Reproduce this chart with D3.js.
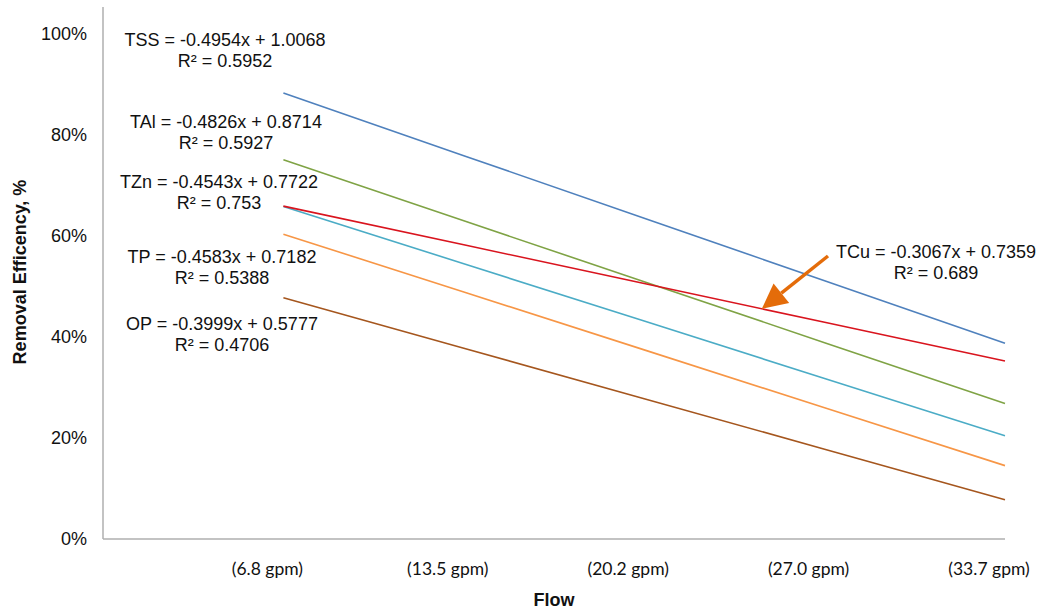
<!DOCTYPE html>
<html>
<head>
<meta charset="utf-8">
<script src="https://cdn.jsdelivr.net/npm/d3@7"></script>
<style>
  body { margin: 0; background: #fff; }
  svg { display: block; }
</style>
</head>
<body>
<svg id="chart" width="1041" height="614"></svg>
<script>
// ---- data ----
const flowX = [0.25, 0.5, 0.75, 1.0, 1.25];           // normalized flow (x / 27 gpm)
const flowLabels = ["(6.8 gpm)", "(13.5 gpm)", "(20.2 gpm)", "(27.0 gpm)", "(33.7 gpm)"];
const yTicks = [0, 0.2, 0.4, 0.6, 0.8, 1.0];

const seriesNames = ["TSS", "TAl", "TZn", "TP", "OP", "TCu"];
const tssValues = [0.8830, 0.7591, 0.6353, 0.5114, 0.3876];
const talValues = [0.7508, 0.6301, 0.5095, 0.3888, 0.2682];
const tznValues = [0.6586, 0.5451, 0.4315, 0.3179, 0.2043];
const tpValues  = [0.6036, 0.4891, 0.3745, 0.2599, 0.1453];
const opValues  = [0.4777, 0.3778, 0.2778, 0.1778, 0.0778];
const tcuValues = [0.6592, 0.5826, 0.5059, 0.4292, 0.3525];
const seriesEquations = [
  "TSS = -0.4954x + 1.0068",
  "TAl = -0.4826x + 0.8714",
  "TZn = -0.4543x + 0.7722",
  "TP = -0.4583x + 0.7182",
  "OP = -0.3999x + 0.5777",
  "TCu = -0.3067x + 0.7359"
];
const seriesR2 = ["R\u00B2 = 0.5952", "R\u00B2 = 0.5927", "R\u00B2 = 0.753", "R\u00B2 = 0.5388", "R\u00B2 = 0.4706", "R\u00B2 = 0.689"];

(function () {
// ---- layout ----
const colors = ["#4F81BD", "#7FA345", "#4BACC6", "#F79646", "#A5561E", "#D9141E"];
const seriesValues = [tssValues, talValues, tznValues, tpValues, opValues, tcuValues];

const svg = d3.select("#chart");
const mLeft = 103, mRight = 1005, mTop = 7, mBottom = 539;
const font = "Liberation Sans, Arial, sans-serif";

const x = d3.scaleLinear().domain([0, 1.25]).range([mLeft, mRight]);
const y = d3.scaleLinear().domain([0, 1.0535]).range([mBottom, mTop]);

// axes lines
svg.append("line").attr("x1", mLeft).attr("x2", mLeft).attr("y1", mTop).attr("y2", mBottom)
  .attr("stroke", "#AFAFAF").attr("stroke-width", 1.5);
svg.append("line").attr("x1", mLeft).attr("x2", mRight).attr("y1", mBottom).attr("y2", mBottom)
  .attr("stroke", "#AFAFAF").attr("stroke-width", 1.5);

// y tick labels
svg.append("g").selectAll("text").data(yTicks).join("text")
  .attr("x", 87).attr("y", d => y(d))
  .attr("text-anchor", "end").attr("dominant-baseline", "central")
  .attr("font-family", font).attr("font-size", 18)
  .attr("fill", "#111")
  .text(d => d3.format(".0%")(d));

// x category labels
svg.append("g").selectAll("text").data(flowX).join("text")
  .attr("x", (d) => x(d) - 16).attr("y", 568)
  .attr("text-anchor", "middle").attr("dominant-baseline", "central")
  .attr("font-family", "Lato, Open Sans, sans-serif").attr("font-size", 17.5)
  .attr("fill", "#111")
  .text((d, i) => flowLabels[i]);

// axis titles
svg.append("text").attr("x", 554).attr("y", 600)
  .attr("text-anchor", "middle").attr("dominant-baseline", "central")
  .attr("font-family", font).attr("font-size", 18)
  .attr("font-weight", "bold").attr("fill", "#111").text("Flow");
svg.append("text").attr("transform", "translate(20,272) rotate(-90)")
  .attr("text-anchor", "middle").attr("dominant-baseline", "central")
  .attr("font-family", font).attr("font-size", 18)
  .attr("font-weight", "bold").attr("fill", "#111").text("Removal Efficency, %");

// lines
const line = d3.line().x((d, i) => x(flowX[i])).y(d => y(d));
svg.append("g").selectAll("path").data(seriesValues).join("path")
  .attr("d", d => line(d))
  .attr("fill", "none")
  .attr("stroke", (d, i) => colors[i])
  .attr("stroke-width", 1.6);

// equation labels
const labelPos = [[225, 40], [226, 122], [219, 182], [222, 257], [222, 324], [936, 252]];
const lg = svg.append("g").attr("font-family", font)
  .attr("font-size", 18).attr("fill", "#111");
seriesNames.forEach((n, i) => {
  const t = lg.append("text").attr("text-anchor", "middle");
  t.append("tspan").attr("x", labelPos[i][0]).attr("y", labelPos[i][1])
    .attr("dominant-baseline", "central").text(seriesEquations[i]);
  t.append("tspan").attr("x", labelPos[i][0]).attr("y", labelPos[i][1] + 20.5)
    .attr("dominant-baseline", "central").text(seriesR2[i]);
});

// arrow pointing to TCu line
const arrowColor = "#E46C0A";
const tp = 0.913;
const tip = [x(tp), y(tcuValues[0] + (tcuValues[4] - tcuValues[0]) * (tp - 0.25))];
const tail = [828, 256];
const ang = Math.atan2(tip[1] - tail[1], tip[0] - tail[0]);
const headLen = 25, headW = 12.5;
const base = [tip[0] - headLen * Math.cos(ang), tip[1] - headLen * Math.sin(ang)];
svg.append("line").attr("x1", tail[0]).attr("y1", tail[1]).attr("x2", base[0]).attr("y2", base[1])
  .attr("stroke", arrowColor).attr("stroke-width", 3.5);
const px = -Math.sin(ang), py = Math.cos(ang);
svg.append("path")
  .attr("d", `M${tip[0]},${tip[1]} L${base[0] + px * headW},${base[1] + py * headW} L${base[0] - px * headW},${base[1] - py * headW} Z`)
  .attr("fill", arrowColor);
})();
</script>
</body>
</html>
